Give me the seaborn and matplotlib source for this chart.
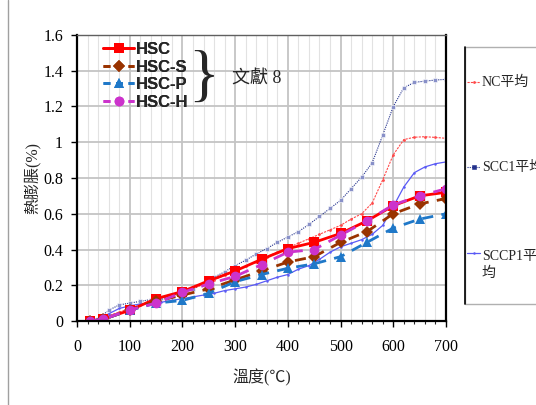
import numpy as np
import pandas as pd
import matplotlib
matplotlib.use("Agg")
import matplotlib.pyplot as plt
from matplotlib.lines import Line2D
from matplotlib.patches import Rectangle
from matplotlib.ticker import MultipleLocator
import seaborn as sns

# temperature (C) for the literature series (文獻 8)
temp = [25, 50, 100, 150, 200, 250, 300, 350, 400, 450, 500, 550, 600, 650, 700]
hsc = [0, 0.01, 0.06, 0.125, 0.165, 0.225, 0.28, 0.345, 0.405, 0.44, 0.49, 0.56, 0.645, 0.70, 0.72]
hsc_s = [0, 0.01, 0.06, 0.11, 0.145, 0.18, 0.23, 0.28, 0.33, 0.36, 0.44, 0.50, 0.60, 0.655, 0.685]
hsc_p = [0, 0.01, 0.06, 0.10, 0.115, 0.155, 0.22, 0.26, 0.295, 0.32, 0.36, 0.44, 0.52, 0.57, 0.60]
hsc_h = [0, 0.01, 0.062, 0.10, 0.16, 0.207, 0.25, 0.315, 0.385, 0.40, 0.48, 0.56, 0.65, 0.70, 0.74]

# temperature for the averaged test curves
temp2 = [20, 40, 60, 80, 100, 120, 140, 160, 180, 200, 220, 240, 260, 280, 300, 320, 340,
         360, 380, 400, 420, 440, 460, 480, 500, 520, 540, 560, 580, 600, 620, 640, 660, 680, 700]
nc_avg = [0, 0.005, 0.03, 0.05, 0.07, 0.09, 0.11, 0.125, 0.14, 0.16, 0.18, 0.205, 0.23, 0.255,
          0.28, 0.305, 0.33, 0.36, 0.385, 0.41, 0.435, 0.46, 0.485, 0.51, 0.535, 0.57, 0.60,
          0.66, 0.79, 0.93, 1.015, 1.028, 1.031, 1.027, 1.022]
scc1_avg = [0, 0.01, 0.06, 0.09, 0.10, 0.11, 0.12, 0.13, 0.145, 0.16, 0.18, 0.215, 0.245, 0.275,
            0.31, 0.34, 0.375, 0.405, 0.44, 0.47, 0.50, 0.54, 0.585, 0.63, 0.675, 0.74, 0.805,
            0.885, 1.04, 1.20, 1.305, 1.335, 1.342, 1.348, 1.352]
sccp1_avg = [0, 0.01, 0.04, 0.07, 0.085, 0.095, 0.10, 0.105, 0.115, 0.125, 0.135, 0.145, 0.155,
             0.17, 0.18, 0.19, 0.205, 0.225, 0.245, 0.26, 0.29, 0.31, 0.345, 0.385, 0.415, 0.435,
             0.455, 0.485, 0.535, 0.64, 0.75, 0.83, 0.862, 0.88, 0.89]

avg_names = ["NC平均", "SCC1平均", "SCCP1平\n均"]
lit_names = ["HSC", "HSC-S", "HSC-P", "HSC-H"]

sns.set_style("white")
plt.rcParams['font.family'] = ['Liberation Serif', 'Noto Sans CJK TC', 'DejaVu Sans']

fig = plt.figure(figsize=(5.36, 4.05), dpi=100)
ax = fig.add_axes([77/536, 84/405, 369/536, 286/405])

# styles for the thin averaged curves
avg_styles = [
    dict(color="#FF4A4A", lw=0.8, marker="o", markersize=2, markeredgewidth=0, linestyle=(0, (2, 1))),
    dict(color="#23318C", lw=0.8, marker="s", markersize=2.5, markeredgewidth=0.4,
         markerfacecolor="#8890C8", linestyle=(0, (1, 1))),
    dict(color="#5A5AF5", lw=0.9, marker="o", markersize=1.8, markeredgewidth=0, linestyle="-"),
]
for yy, st in zip([nc_avg, scc1_avg, sccp1_avg], avg_styles):
    sns.lineplot(x=temp2, y=yy, ax=ax, **st)

# literature series
lit_styles = [
    dict(color="#FF0000", lw=2, marker="s", markersize=7, markeredgewidth=0, linestyle="-"),
    dict(color="#993300", lw=2, marker="D", markersize=6, markeredgewidth=0, linestyle=(0, (4, 3))),
    dict(color="#1F78C8", lw=2, marker="^", markersize=7, markeredgewidth=0, linestyle=(0, (4, 3))),
    dict(color="#CC33CC", lw=2, marker="o", markersize=7, markeredgewidth=0, linestyle=(0, (4, 3))),
]
for yy, st in zip([hsc, hsc_s, hsc_p, hsc_h], lit_styles):
    sns.lineplot(x=temp, y=yy, ax=ax, **st)

ax.set_xlim(0, 700)
ax.set_ylim(0, 1.6)
ax.xaxis.set_major_locator(MultipleLocator(100))
ax.xaxis.set_minor_locator(MultipleLocator(20))
ax.set_yticks(np.arange(0, 1.61, 0.2))
ax.set_yticklabels(["0", "0.2", "0.4", "0.6", "0.8", "1", "1.2", "1.4", "1.6"])
ax.grid(which="major", color="#C4C4C4", lw=1.3)
ax.grid(which="minor", axis="x", color="#E2E2E2", lw=0.8)
ax.set_axisbelow(True)
ax.tick_params(which="major", direction="out", length=4, width=1, labelsize=11.5,
               colors="black", pad=9)
ax.tick_params(axis="y", pad=6)
ax.tick_params(which="minor", axis="x", direction="out", length=2, width=0.8, bottom=True)
ax.tick_params(bottom=True, left=True)
for s in ["left", "bottom", "right"]:
    ax.spines[s].set_color("black")
    ax.spines[s].set_linewidth(1.6)
ax.spines["top"].set_color("#606060")
ax.spines["top"].set_linewidth(1)

ax.set_xlabel("溫度(℃)", fontsize=11.5, labelpad=10)
ax.set_ylabel("熱膨脹(%)", fontsize=11.5, labelpad=2)

# upper-left legend for literature data
h_lit = []
for st in lit_styles:
    st2 = dict(st)
    if st2["linestyle"] != "-":
        st2["linestyle"] = (0, (2.5, 2))
    h_lit.append(Line2D([], [], **st2))
leg1 = ax.legend(h_lit, lit_names, loc="upper left",
                 bbox_to_anchor=(0.07, 0.975), frameon=False, handlelength=1.9,
                 handletextpad=0.1, labelspacing=0.15, borderpad=0, borderaxespad=0,
                 prop={"family": "Liberation Sans", "weight": "bold", "size": 12})
ax.add_artist(leg1)
ax.text(0.342, 0.845, "}", transform=ax.transAxes, fontsize=46, va="center", ha="center",
        family="Liberation Serif")
ax.text(0.42, 0.85, "文獻 8", transform=ax.transAxes, fontsize=13, va="center", ha="left")

# right-side legend box for averaged curves (drawn by hand, clipped by the figure edge)
fig.add_artist(Rectangle((465/536, 1 - 304/405), 0.2, 257/405, transform=fig.transFigure,
                         facecolor="white", edgecolor="#B0B0B0", lw=1))
fig.add_artist(Line2D([465/536, 465/536], [1 - 304/405, 1 - 47/405], color="black", lw=1.2))
for ypx, name, st in zip([82, 167, 253], avg_names, avg_styles):
    yf = 1 - ypx / 405
    st2 = dict(st)
    st2.pop("markerfacecolor", None)
    fig.add_artist(Line2D([467/536, 473.5/536, 480/536], [yf, yf, yf], markevery=[1], **st2))
    va_y = yf if "\n" not in name else 1 - (ypx + 12) / 405
    fig.text(482/536, va_y, name, fontsize=10, va="center", ha="left", linespacing=1.3)

# outer border of the chart area
fig.add_artist(Line2D([8/536, 8/536], [0, 1], color="#A0A0A0", lw=1))

fig.savefig("out.png", dpi=100)
